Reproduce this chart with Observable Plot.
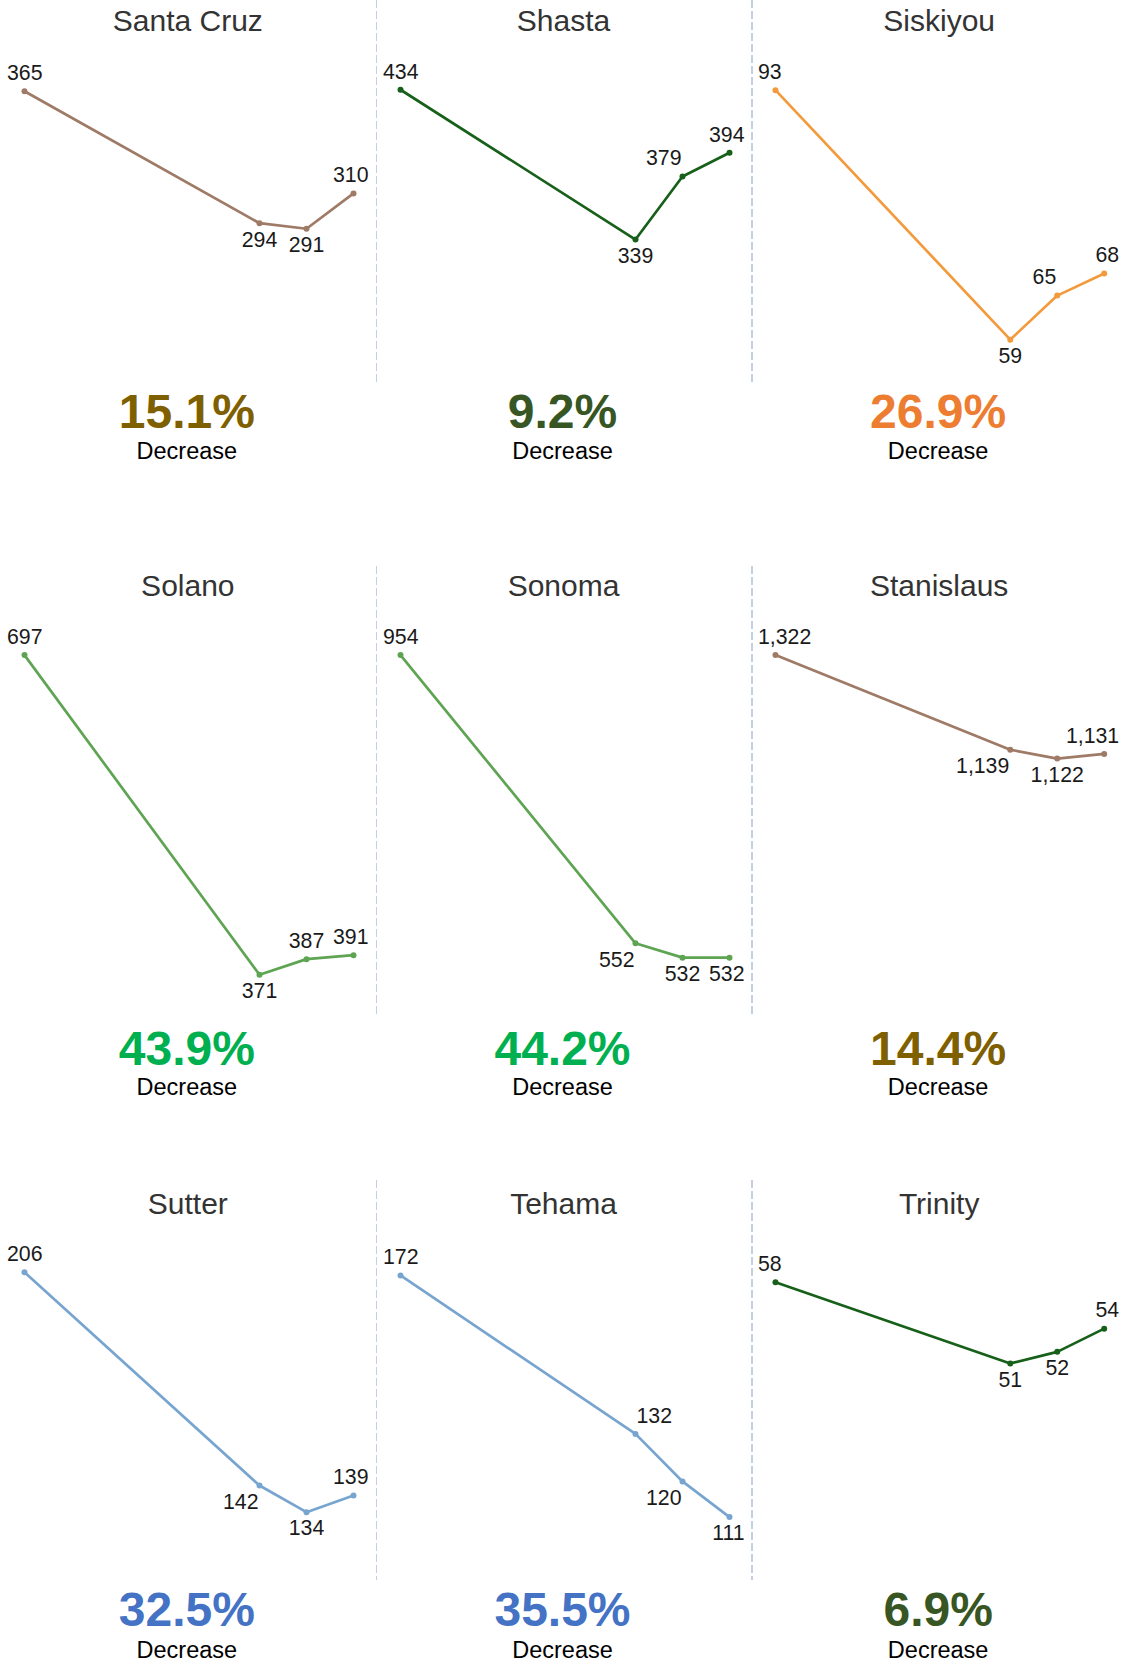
<!DOCTYPE html>
<html>
<head>
<meta charset="utf-8">
<script src="https://cdn.jsdelivr.net/npm/d3@7"></script>
<script src="https://cdn.jsdelivr.net/npm/@observablehq/plot@0.6"></script>
<style>
  html, body { margin: 0; padding: 0; background: #fff; }
  #wrap { position: relative; width: 1127px; height: 1663px; overflow: hidden; font-family: "Liberation Sans", Arial, sans-serif; }
  .abs { position: absolute; white-space: nowrap; line-height: 1; transform: translate(-50%, -50%); }
  .title { font-size: 30px; color: #333; }
  .pct { font-size: 48px; font-weight: bold; }
  .dec { font-size: 23.5px; color: #000; }
  .sep { position: absolute; width: 1.5px;
         background-image: linear-gradient(to bottom, #c3cfe3 72%, rgba(255,255,255,0) 72%);
         background-size: 1.5px 11px; background-repeat: repeat-y; }
  .panel { position: absolute; }
</style>
</head>
<body>
<div id="wrap"></div>
<script>
// ---- data ----
const counties = ["Santa Cruz", "Shasta", "Siskiyou", "Solano", "Sonoma", "Stanislaus", "Sutter", "Tehama", "Trinity"];
const years = [2015, 2020, 2021, 2022];
const santaCruz  = [365, 294, 291, 310];
const shasta     = [434, 339, 379, 394];
const siskiyou   = [93, 59, 65, 68];
const solano     = [697, 371, 387, 391];
const sonoma     = [954, 552, 532, 532];
const stanislaus = [1322, 1139, 1122, 1131];
const sutter     = [206, 142, 134, 139];
const tehama     = [172, 132, 120, 111];
const trinity    = [58, 51, 52, 54];
const seriesValues = [santaCruz, shasta, siskiyou, solano, sonoma, stanislaus, sutter, tehama, trinity];
// per-panel value axis extents (independent axes)
const axisLow  = [208.3, 248.3, 53.2, 328.5, 449.9, 624.3, 113.5, 95.0, 32.3];
const axisHigh = [386.9, 458.9, 98.4, 742.5, 1016.2, 1408.1, 220.0, 184.6, 62.9];
// label placement per point: t = above, b = below, tl/bl = left of point, tr = right of point
const labelPlacement = [
  ["t", "b", "b", "t"],
  ["t", "b", "tl", "t"],
  ["t", "b", "tl", "t"],
  ["t", "b", "t", "t"],
  ["t", "bl", "b", "b"],
  ["t", "bl", "b", "t"],
  ["t", "bl", "b", "t"],
  ["t", "tr", "bl", "b"],
  ["t", "b", "b", "t"]
];
// change buckets (%) and colours
const bucketBreaks = [10, 20, 30, 40];
const lineColors = ["#17601a", "#9f7a66", "#f39a3c", "#78a5cf", "#5ea452"];
const pctColors  = ["#375623", "#7f6000", "#ed7d31", "#4472c4", "#00b050"];

// ---- layout ----
const colW = 1127 / 3;
const rows = [
  {titleY: 21,     paneTop: 50,   paneBottom: 382,  sepTop: 0,    pctY: 411.5,  decY: 451.5},
  {titleY: 585.7,  paneTop: 610,  paneBottom: 1016, sepTop: 566,  pctY: 1049,   decY: 1088.4},
  {titleY: 1204,   paneTop: 1225, paneBottom: 1580, sepTop: 1180, pctY: 1609.5, decY: 1650.5}
];
const wrap = document.getElementById("wrap");
const pctColor = d3.scaleThreshold().domain(bucketBreaks).range(pctColors);
const fmt = d3.format(",");

function addDiv(cls, text, x, y, color) {
  const el = document.createElement("div");
  el.className = "abs " + cls;
  el.textContent = text;
  el.style.left = x + "px";
  el.style.top = y + "px";
  if (color) el.style.color = color;
  wrap.appendChild(el);
  return el;
}

function labelSpec(i, n, code) {
  const above = code[0] === "t";
  const dy = above ? -18 : 16.5;
  if (i === 0) return {textAnchor: "start", dx: -17.5, dy};
  if (i === n - 1) return {textAnchor: "end", dx: 15, dy};
  if (code.length > 1 && code[1] === "l") return {textAnchor: "end", dx: -1, dy};
  if (code.length > 1 && code[1] === "r") return {textAnchor: "start", dx: 1, dy};
  return {textAnchor: "middle", dx: 0, dy};
}

counties.forEach((name, k) => {
  const row = rows[Math.floor(k / 3)];
  const col = k % 3;
  const left = col * colW;
  const vals = seriesValues[k];
  const change = (vals[0] - vals[vals.length - 1]) / vals[0] * 100;
  const data = years.map((yr, i) => ({year: yr, value: vals[i], change, i, code: labelPlacement[k][i]}));

  const groups = d3.groups(data, d => JSON.stringify(labelSpec(d.i, data.length, d.code)));
  const textMarks = groups.map(([key, arr]) => {
    const s = JSON.parse(key);
    return Plot.text(arr, {
      x: "year", y: "value", text: d => fmt(d.value),
      textAnchor: s.textAnchor, dx: s.dx, dy: s.dy,
      fontSize: 21.3, fill: "#1a1a1a", lineAnchor: "middle"
    });
  });

  const H = row.paneBottom - row.paneTop;
  const chart = Plot.plot({
    width: 376, height: H,
    marginLeft: 24, marginRight: 23, marginTop: 0, marginBottom: 0,
    x: {domain: [2015, 2022], axis: null},
    y: {domain: [axisLow[k], axisHigh[k]], axis: null},
    color: {type: "threshold", domain: bucketBreaks, range: lineColors},
    style: {overflow: "visible", background: "transparent", fontFamily: "'Liberation Sans', Arial, sans-serif"},
    marks: [
      Plot.line(data, {x: "year", y: "value", stroke: "change", strokeWidth: 2.7}),
      Plot.dot(data, {x: "year", y: "value", fill: "change", r: 3}),
      ...textMarks
    ]
  });
  const holder = document.createElement("div");
  holder.className = "panel";
  holder.style.left = left + "px";
  holder.style.top = row.paneTop + "px";
  holder.appendChild(chart);
  wrap.appendChild(holder);

  const cx = left + colW / 2;
  addDiv("title", name, cx, row.titleY);
  addDiv("pct", d3.format(".1f")(change) + "%", cx - 1, row.pctY, pctColor(change));
  addDiv("dec", "Decrease", cx - 1, row.decY);
});

// dashed separators
rows.forEach(row => {
  [1, 2].forEach(c => {
    const s = document.createElement("div");
    s.className = "sep";
    s.style.left = (c * colW) + "px";
    s.style.top = row.sepTop + "px";
    s.style.height = (row.paneBottom - row.sepTop) + "px";
    wrap.appendChild(s);
  });
});
</script>
</body>
</html>
